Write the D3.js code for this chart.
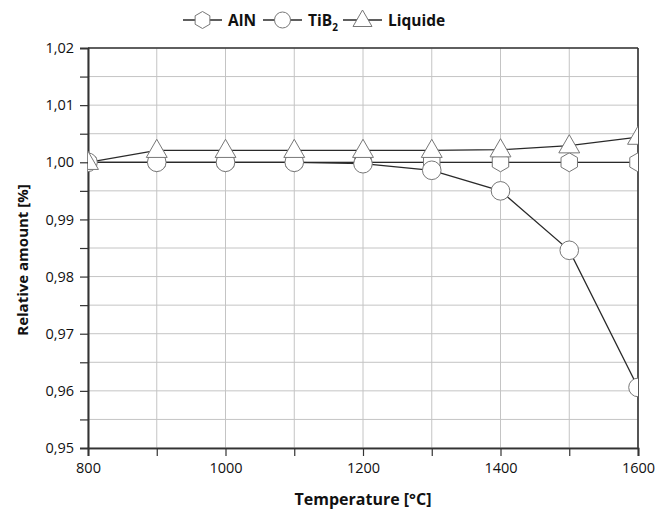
<!DOCTYPE html>
<html><head><meta charset="utf-8">
<script src="https://cdn.jsdelivr.net/npm/d3@7"></script>
<style>body{margin:0;background:#fff}svg{display:block}text{font-family:"Open Sans",sans-serif}</style>
</head><body><svg id="c" width="671" height="512"></svg>
<script>
const temps = [800, 900, 1000, 1100, 1200, 1300, 1400, 1500, 1600];
const alnValues = [1.0, 1.0, 1.0, 1.0, 1.0, 1.0, 1.0, 1.0, 1.0];
const tib2Values = [1.0, 1.0, 1.0, 1.0, 0.99975, 0.9986, 0.9950, 0.9846, 0.9606];
const liquideValues = [1.0, 1.0021, 1.0021, 1.0021, 1.0021, 1.0021, 1.0022, 1.0029, 1.0044];
const xTicks = [800, 1000, 1200, 1400, 1600];
const yTicks = [0.95, 0.96, 0.97, 0.98, 0.99, 1.00, 1.01, 1.02];

const svg = d3.select("#c");
const m = {l: 88, r: 33, t: 48, b: 64};
const W = 671, H = 512;
const x = d3.scaleLinear().domain([800, 1600]).range([m.l, W - m.r]);
const y = d3.scaleLinear().domain([0.95, 1.02]).range([H - m.b, m.t]);

// gridlines
const g = svg.append("g");
d3.range(800, 1601, 100).forEach(v => {
  g.append("line").attr("x1", x(v)).attr("x2", x(v)).attr("y1", y(0.95)).attr("y2", y(1.02))
    .attr("stroke", "#c4c4c4").attr("stroke-width", 1);
});
d3.range(0, 15).map(i => 0.95 + i * 0.005).forEach(v => {
  g.append("line").attr("x1", x(800)).attr("x2", x(1600)).attr("y1", y(v)).attr("y2", y(v))
    .attr("stroke", "#c4c4c4").attr("stroke-width", 1);
});

// axes
const fmt = d => d3.format(".2f")(d).replace(".", ",");
const yAxis = svg.append("g").attr("transform", `translate(${m.l},0)`)
  .call(d3.axisLeft(y).tickValues(yTicks).tickFormat(fmt).tickSize(8).tickPadding(6));
const yMinor = svg.append("g").attr("transform", `translate(${m.l},0)`)
  .call(d3.axisLeft(y).tickValues(d3.range(0, 7).map(i => 0.955 + i * 0.01)).tickFormat("").tickSize(8));
const xAxis = svg.append("g").attr("transform", `translate(0,${H - m.b})`)
  .call(d3.axisBottom(x).tickValues(xTicks).tickFormat(d3.format("d")).tickSize(8).tickPadding(7));
const xMinor = svg.append("g").attr("transform", `translate(0,${H - m.b})`)
  .call(d3.axisBottom(x).tickValues([900, 1100, 1300, 1500]).tickFormat("").tickSize(8));
[yAxis, yMinor, xAxis, xMinor].forEach(a => {
  a.selectAll(".domain").attr("stroke", "#333").attr("stroke-width", 1.6);
  a.selectAll(".tick line").attr("stroke", "#333").attr("stroke-width", 1.2);
  a.selectAll("text").attr("font-size", 14.5).attr("fill", "#111").attr("font-family", "Open Sans, sans-serif");
});
// frame top & right
svg.append("line").attr("x1", x(800)).attr("x2", x(1600)).attr("y1", y(1.02)).attr("y2", y(1.02)).attr("stroke", "#333").attr("stroke-width", 1.6);
svg.append("line").attr("x1", x(1600)).attr("x2", x(1600)).attr("y1", y(1.02)).attr("y2", y(0.95)).attr("stroke", "#333").attr("stroke-width", 1.6);

// clip
svg.append("clipPath").attr("id", "clip").append("rect")
  .attr("x", x(800)).attr("y", y(1.02)).attr("width", x(1600) - x(800)).attr("height", y(0.95) - y(1.02));
const plot = svg.append("g").attr("clip-path", "url(#clip)");

const hexPath = r => {
  const pts = d3.range(6).map(i => { const a = Math.PI / 6 + i * Math.PI / 3; return [r * Math.cos(a), r * Math.sin(a)]; });
  return "M" + pts.map(p => p.join(",")).join("L") + "Z";
};
const triPath = r => `M0,${-r}L${r * 0.95},${r * 0.65}L${-r * 0.95},${r * 0.65}Z`;
const circPath = r => d3.symbol(d3.symbolCircle, Math.PI * r * r)();

const series = [
  {name: "AlN", vals: alnValues, shape: hexPath(9.5)},
  {name: "TiB2", vals: tib2Values, shape: circPath(9.3)},
  {name: "Liquide", vals: liquideValues, shape: triPath(11)}
];
const line = d3.line().x((d, i) => x(temps[i])).y(d => y(d));
series.forEach(s => {
  plot.append("path").datum(s.vals).attr("d", line).attr("fill", "none").attr("stroke", "#2a2a2a").attr("stroke-width", 1.3);
});
series.forEach(s => {
  plot.selectAll(null).data(s.vals).enter().append("path")
    .attr("transform", (d, i) => `translate(${x(temps[i])},${y(d)})`)
    .attr("d", s.shape).attr("fill", "#fff").attr("stroke", "#777").attr("stroke-width", 1);
});

// axis titles
svg.append("text").attr("x", (x(800) + x(1600)) / 2).attr("y", 505).attr("text-anchor", "middle")
  .attr("font-size", 16).attr("font-weight", "bold").attr("fill", "#111").text("Temperature [°C]");
svg.append("text").attr("transform", `translate(28,260) rotate(-90)`).attr("text-anchor", "middle")
  .attr("font-size", 15).attr("font-weight", "bold").attr("fill", "#111").text("Relative amount [%]");

// legend
const leg = svg.append("g").attr("transform", "translate(0,20)");
const items = [
  {x0: 183, shape: hexPath(8.5), label: "AlN", sub: null},
  {x0: 263, shape: circPath(8), label: "TiB", sub: "2"},
  {x0: 343, shape: triPath(10), label: "Liquide", sub: null}
];
items.forEach(it => {
  leg.append("line").attr("x1", it.x0).attr("x2", it.x0 + 39).attr("y1", 0).attr("y2", 0).attr("stroke", "#2a2a2a").attr("stroke-width", 1.3);
  leg.append("path").attr("transform", `translate(${it.x0 + 19.5},0)`).attr("d", it.shape).attr("fill", "#fff").attr("stroke", "#777");
  const t = leg.append("text").attr("x", it.x0 + 45).attr("y", 5.5).attr("font-size", 15.5).attr("font-weight", "bold").attr("fill", "#111").text(it.label);
  if (it.sub) t.append("tspan").attr("dy", 5).attr("font-size", 10).text(it.sub);
});
</script></body></html>
